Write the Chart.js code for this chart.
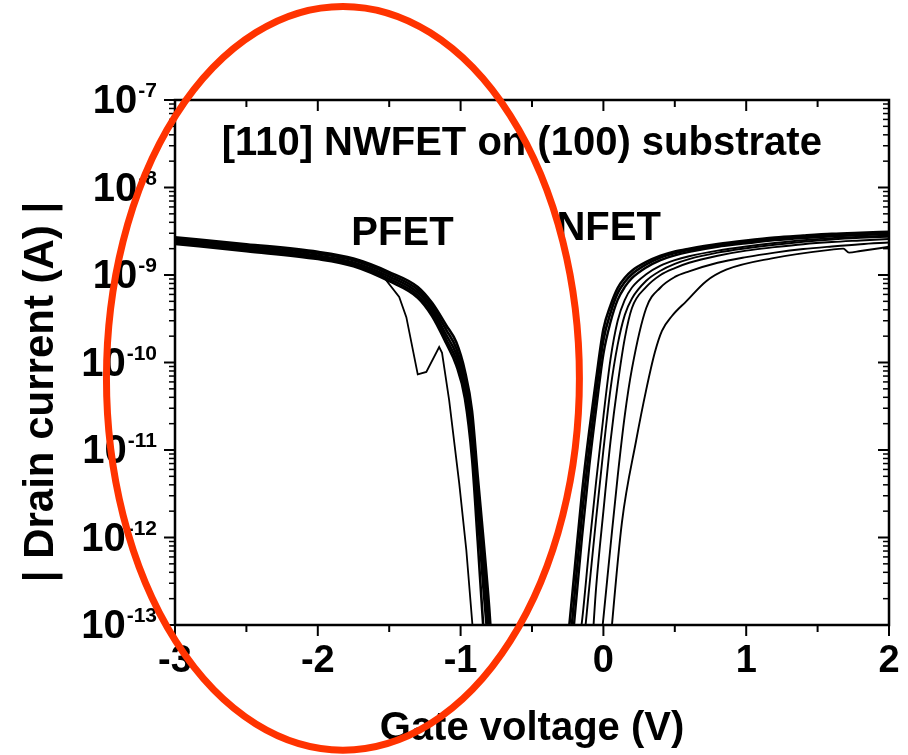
<!DOCTYPE html>
<html>
<head>
<meta charset="utf-8">
<script src="https://cdn.jsdelivr.net/npm/chart.js@4.4.1/dist/chart.umd.min.js"></script>
<style>
  html, body { margin: 0; padding: 0; background: #fff; }
  #wrap { width: 908px; height: 755px; }
</style>
</head>
<body>
<div id="wrap"><canvas id="ivChart"></canvas></div>
<script>
// ---- data (gate voltage in V, |drain current| in A) ----

// PFET sweeps, shared gate voltage grid
const pfetV = [-3, -2.5, -2, -1.75, -1.5, -1.3, -1.2, -1.1, -1.03, -0.97, -0.92, -0.88, -0.84, -0.8, -0.77];
const pfet1 = [2.7e-9, 2.25e-9, 1.84e-9, 1.54e-9, 1.08e-9, 7.3e-10, 4.8e-10, 2.65e-10, 1.7e-10, 8.0e-11, 2.8e-11, 5.0e-12, 9.5e-13, 1.6e-13, 3e-14];
const pfet2 = [2.58e-9, 2.14e-9, 1.76e-9, 1.47e-9, 1.02e-9, 6.8e-10, 4.4e-10, 2.35e-10, 1.45e-10, 6.7e-11, 2.2e-11, 3.7e-12, 6.5e-13, 1.15e-13, 2.4e-14];
const pfet3 = [2.47e-9, 2.05e-9, 1.67e-9, 1.39e-9, 9.6e-10, 6.3e-10, 4.05e-10, 2.05e-10, 1.25e-10, 5.6e-11, 1.75e-11, 2.8e-12, 4.7e-13, 8e-14, 2e-14];
const pfet4 = [2.37e-9, 1.96e-9, 1.59e-9, 1.32e-9, 9.0e-10, 5.85e-10, 3.7e-10, 1.82e-10, 1.08e-10, 4.7e-11, 1.35e-11, 1.9e-12, 2.6e-13, 4.5e-14, 1.2e-14];
const pfet5 = [2.27e-9, 1.87e-9, 1.52e-9, 1.26e-9, 8.5e-10, 5.5e-10, 3.4e-10, 1.65e-10, 9.3e-11, 3.9e-11, 8e-12, 9e-13, 9e-14, 1.5e-14, 5e-15];

// PFET sweep with the kink
const pfetKinkV = [-3, -2.5, -2, -1.75, -1.55, -1.43, -1.38, -1.30, -1.24, -1.15, -1.13, -1.08, -1.01, -0.96, -0.917, -0.9];
const pfetKinkI = [2.4e-9, 2.0e-9, 1.63e-9, 1.35e-9, 1.0e-9, 5.6e-10, 3.3e-10, 7.3e-11, 7.8e-11, 1.5e-10, 1.29e-10, 3.7e-11, 4.2e-12, 7.2e-13, 1e-13, 4e-14];

// NFET sweeps, shared gate voltage grid
const nfetV = [-0.3, -0.25, -0.2, -0.15, -0.1, -0.05, 0, 0.05, 0.1, 0.15, 0.2, 0.3, 0.4, 0.5, 0.6, 0.8, 1.0, 1.2, 1.4, 1.6, 1.8, 2.0];
const nfet1 = [1e-14, 6.3e-14, 4.5e-13, 3.2e-12, 1.6e-11, 6.6e-11, 2.4e-10, 4.5e-10, 7.1e-10, 9.3e-10, 1.12e-9, 1.41e-9, 1.66e-9, 1.86e-9, 2.0e-9, 2.26e-9, 2.48e-9, 2.68e-9, 2.82e-9, 2.95e-9, 3.04e-9, 3.12e-9];
const nfet2 = [5e-15, 3e-14, 2.4e-13, 1.8e-12, 1.0e-11, 4.6e-11, 1.8e-10, 3.7e-10, 6.2e-10, 8.3e-10, 1.02e-9, 1.32e-9, 1.58e-9, 1.78e-9, 1.93e-9, 2.18e-9, 2.39e-9, 2.58e-9, 2.73e-9, 2.85e-9, 2.94e-9, 3.02e-9];
const nfet3 = [3e-15, 1.5e-14, 1.3e-13, 1.0e-12, 6.3e-12, 3.0e-11, 1.25e-10, 2.9e-10, 5.2e-10, 7.3e-10, 9.2e-10, 1.22e-9, 1.48e-9, 1.68e-9, 1.84e-9, 2.1e-9, 2.3e-9, 2.5e-9, 2.65e-9, 2.77e-9, 2.87e-9, 2.95e-9];
const nfet4 = [1e-15, 5e-15, 3e-14, 1.1e-13, 7.5e-13, 4.5e-12, 2.4e-11, 1.1e-10, 3.0e-10, 5.2e-10, 7.2e-10, 1.02e-9, 1.28e-9, 1.48e-9, 1.64e-9, 1.9e-9, 2.12e-9, 2.32e-9, 2.5e-9, 2.64e-9, 2.74e-9, 2.82e-9];
const nfet5 = [1e-15, 2e-15, 1e-14, 4e-14, 2.6e-13, 1.7e-12, 1.0e-11, 5.0e-11, 1.6e-10, 3.5e-10, 5.4e-10, 8.6e-10, 1.12e-9, 1.34e-9, 1.52e-9, 1.8e-9, 2.02e-9, 2.22e-9, 2.4e-9, 2.55e-9, 2.66e-9, 2.74e-9];
const nfet6 = [1e-15, 1e-15, 2e-15, 8e-15, 2e-14, 2.8e-13, 2e-12, 1.26e-11, 5.6e-11, 1.9e-10, 4.2e-10, 7.3e-10, 1.0e-9, 1.2e-9, 1.38e-9, 1.66e-9, 1.9e-9, 2.08e-9, 2.25e-9, 2.38e-9, 2.48e-9, 2.58e-9];
const nfet7 = [1e-15, 1e-15, 1e-15, 1e-15, 2e-15, 2e-14, 1.2e-13, 8e-13, 5e-12, 2.5e-11, 8.5e-11, 4.2e-10, 7.2e-10, 9.5e-10, 1.1e-9, 1.38e-9, 1.6e-9, 1.8e-9, 1.98e-9, 2.12e-9, 2.25e-9, 2.35e-9];

// slowest NFET sweep with the small dip near 1.7 V
const nfetSlowV = [0.03, 0.06, 0.13, 0.23, 0.30, 0.36, 0.41, 0.48, 0.58, 0.72, 0.86, 1.18, 1.6, 1.68, 1.72, 1.8, 2.0];
const nfetSlowI = [2.5e-14, 1e-13, 1.5e-12, 1.3e-11, 4.9e-11, 1.3e-10, 2.3e-10, 3.4e-10, 5.0e-10, 8.5e-10, 1.15e-9, 1.55e-9, 1.95e-9, 2.0e-9, 1.8e-9, 1.88e-9, 2.1e-9];

// axes
const xTickValues = [-3, -2, -1, 0, 1, 2];
const xTickSteps = [-3, -2.5, -2, -1.5, -1, -0.5, 0, 0.5, 1, 1.5, 2];
const yTickExponents = [-7, -8, -9, -10, -11, -12, -13];

// text
const chartTitle = '[110] NWFET on (100) substrate';
const xAxisTitle = 'Gate voltage (V)';
const yAxisTitle = '| Drain current (A) |';
const pfetLabel = 'PFET';
const nfetLabel = 'NFET';

// text anchors in data units
const titleAt = { v: -0.571, i: 2.35e-8 };
const pfetLabelAt = { v: -1.765, i: 2.2e-9 };
const nfetLabelAt = { v: -0.329, i: 2.5e-9 };

// red ring drawn over the PFET side (data units)
const ringCenterV = -1.824;
const ringCenterI = 6.6e-11;
const ringHalfWidthV = 1.656;
const ringHalfDecades = 4.25;

const FONT = '"Liberation Sans", Arial, Helvetica, sans-serif';

function pts(xs, ys) {
  return xs.map((x, i) => ({ x: x, y: ys[i] }));
}

function curve(xs, ys, smooth, width) {
  return {
    data: pts(xs, ys),
    showLine: true,
    borderColor: '#000',
    borderWidth: width,
    pointRadius: 0,
    fill: false,
    cubicInterpolationMode: smooth ? 'monotone' : 'default',
    tension: 0
  };
}

const datasets = [
  curve(pfetV, pfet1, true, 2.6),
  curve(pfetV, pfet2, true, 2.6),
  curve(pfetV, pfet3, true, 2.6),
  curve(pfetV, pfet4, true, 2.6),
  curve(pfetV, pfet5, true, 2.6),
  curve(pfetKinkV, pfetKinkI, false, 1.8),
  curve(nfetV, nfet1, true, 2.6),
  curve(nfetV, nfet2, true, 2.6),
  curve(nfetV, nfet3, true, 2.4),
  curve(nfetV, nfet4, true, 1.9),
  curve(nfetV, nfet5, true, 1.9),
  curve(nfetV, nfet6, true, 1.9),
  curve(nfetV, nfet7, true, 1.9),
  curve(nfetSlowV, nfetSlowI, true, 1.9)
];

function line(ctx, x1, y1, x2, y2) {
  ctx.beginPath();
  ctx.moveTo(x1, y1);
  ctx.lineTo(x2, y2);
  ctx.stroke();
}

// frame, Origin-style ticks, labels, titles and the red ring
const decorations = {
  id: 'decorations',
  afterDraw(chart) {
    const ctx = chart.ctx;
    const a = chart.chartArea;
    const xs = chart.scales.x;
    const ys = chart.scales.y;
    ctx.save();
    ctx.strokeStyle = '#000';
    ctx.fillStyle = '#000';

    // frame
    ctx.lineWidth = 2.5;
    ctx.strokeRect(a.left, a.top, a.right - a.left, a.bottom - a.top);

    // x ticks: outward at bottom, inward at top
    ctx.lineWidth = 2;
    xTickSteps.forEach(v => {
      const px = xs.getPixelForValue(v);
      const len = xTickValues.includes(v) ? 11 : 7;
      line(ctx, px, a.bottom, px, a.bottom + len);
      line(ctx, px, a.top, px, a.top + len);
    });

    // y ticks: outward on the left, inward on the right
    const topExp = Math.max.apply(null, yTickExponents);
    yTickExponents.forEach(e => {
      const py = ys.getPixelForValue(Math.pow(10, e));
      ctx.lineWidth = 2;
      line(ctx, a.left - 11, py, a.left, py);
      line(ctx, a.right - 11, py, a.right, py);
      if (e < topExp) {
        ctx.lineWidth = 1.5;
        for (let m = 2; m <= 9; m++) {
          const pm = ys.getPixelForValue(m * Math.pow(10, e));
          line(ctx, a.left - 6, pm, a.left, pm);
          line(ctx, a.right - 6, pm, a.right, pm);
        }
      }
    });

    // x tick labels
    ctx.font = 'bold 38px ' + FONT;
    ctx.textAlign = 'center';
    ctx.textBaseline = 'middle';
    xTickValues.forEach(v => {
      ctx.fillText(String(v), xs.getPixelForValue(v), a.bottom + 37);
    });

    // y tick labels: 10 with a superscript exponent
    yTickExponents.forEach(e => {
      const py = ys.getPixelForValue(Math.pow(10, e));
      const right = a.left - 18;
      ctx.font = 'bold 21px ' + FONT;
      const sup = String(e);
      const supW = ctx.measureText(sup).width;
      ctx.textAlign = 'left';
      ctx.textBaseline = 'top';
      ctx.fillText(sup, right - supW, py - 19);
      ctx.font = 'bold 40px ' + FONT;
      ctx.textAlign = 'right';
      ctx.textBaseline = 'middle';
      ctx.fillText('10', right - supW - 1, py + 2);
    });

    // axis titles
    ctx.font = 'bold 40px ' + FONT;
    ctx.textAlign = 'center';
    ctx.textBaseline = 'alphabetic';
    ctx.fillText(xAxisTitle, (a.left + a.right) / 2, a.bottom + 115);

    ctx.save();
    ctx.translate(53, a.top + 292);
    ctx.rotate(-Math.PI / 2);
    ctx.font = 'bold 42px ' + FONT;
    ctx.fillText(yAxisTitle, 0, 0);
    ctx.restore();

    // title and curve labels inside the plot
    ctx.font = 'bold 40px ' + FONT;
    ctx.textAlign = 'center';
    ctx.fillText(chartTitle, xs.getPixelForValue(titleAt.v), ys.getPixelForValue(titleAt.i));
    ctx.textAlign = 'left';
    ctx.fillText(pfetLabel, xs.getPixelForValue(pfetLabelAt.v), ys.getPixelForValue(pfetLabelAt.i));
    ctx.fillText(nfetLabel, xs.getPixelForValue(nfetLabelAt.v), ys.getPixelForValue(nfetLabelAt.i));

    // red ring
    const cx = xs.getPixelForValue(ringCenterV);
    const rx = xs.getPixelForValue(ringCenterV + ringHalfWidthV) - cx;
    const cy = ys.getPixelForValue(ringCenterI);
    const ry = cy - ys.getPixelForValue(ringCenterI * Math.pow(10, ringHalfDecades));
    ctx.strokeStyle = 'rgb(255, 51, 0)';
    ctx.lineWidth = 7;
    ctx.beginPath();
    ctx.ellipse(cx, cy, rx, ry, 0, 0, Math.PI * 2);
    ctx.stroke();

    ctx.restore();
  }
};

new Chart(document.getElementById('ivChart'), {
  type: 'scatter',
  data: { datasets: datasets },
  options: {
    responsive: true,
    maintainAspectRatio: false,
    animation: false,
    events: [],
    layout: {
      padding: { left: 175, right: 19, top: 100, bottom: 130 }
    },
    scales: {
      x: {
        type: 'linear',
        min: -3,
        max: 2,
        display: false
      },
      y: {
        type: 'logarithmic',
        min: 1e-13,
        max: 1e-7,
        display: false
      }
    },
    plugins: {
      legend: { display: false },
      tooltip: { enabled: false },
      title: { display: false }
    }
  },
  plugins: [decorations]
});
</script>
</body>
</html>
